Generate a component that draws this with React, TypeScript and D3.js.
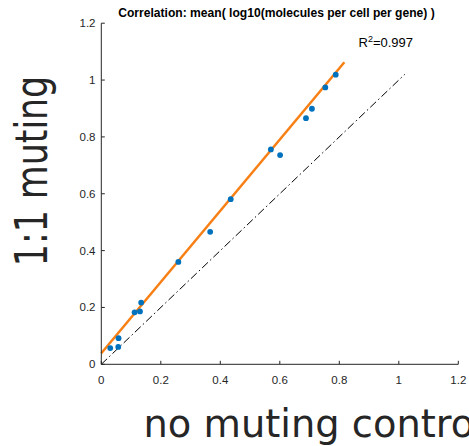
import React from "react";
import * as d3 from "d3";

const xValues = [0.030, 0.057, 0.058, 0.112, 0.130, 0.134, 0.259, 0.366, 0.435, 0.570, 0.601, 0.688, 0.708, 0.753, 0.788];
const yValues = [0.057, 0.061, 0.092, 0.183, 0.186, 0.217, 0.360, 0.466, 0.581, 0.756, 0.736, 0.866, 0.899, 0.974, 1.019];
const fitIntercept = 0.039;
const fitSlope = 1.253;
const fitXRange = [0, 0.817];
const identityRange = [0, 1.02];
const tickValues = [0, 0.2, 0.4, 0.6, 0.8, 1, 1.2];
const titleText = "Correlation: mean( log10(molecules per cell per gene) )";
const r2Text = "0.997";
const xLabel = "no muting control";
const yLabel = "1:1 muting";

const W = 469;
const H = 446;

export default function App() {
  const x = d3.scaleLinear().domain([0, 1.2]).range([101.3, 458.3]);
  const y = d3.scaleLinear().domain([0, 1.2]).range([364.3, 23.2]);
  const axisColor = "#262626";
  const line = d3.line<[number, number]>().x((d) => x(d[0])).y((d) => y(d[1]));
  const fitPts: [number, number][] = fitXRange.map((v) => [v, fitIntercept + fitSlope * v]);
  const idPts: [number, number][] = identityRange.map((v) => [v, v]);
  const fmt = (v: number) => (v === 0 || v === 1 ? String(v) : v.toFixed(1));
  return (
    <svg width={W} height={H} style={{ position: "absolute", left: 0, top: 0, background: "#fff" }}>
      <rect width={W} height={H} fill="#fff" />
      {/* identity line */}
      <path d={line(idPts) || ""} stroke="#000" strokeWidth={1} fill="none" strokeDasharray="8,3,1.5,3" />
      {/* fit */}
      <path d={line(fitPts) || ""} stroke="#F77F14" strokeWidth={2.5} fill="none" />
      {/* points */}
      {xValues.map((v, i) => (
        <circle key={i} cx={x(v)} cy={y(yValues[i])} r={2.9} fill="#0072BD" />
      ))}
      {/* axes */}
      <line x1={x(0)} x2={x(1.2)} y1={y(0)} y2={y(0)} stroke={axisColor} strokeWidth={1} />
      <line x1={x(0)} x2={x(0)} y1={y(0)} y2={y(1.2)} stroke={axisColor} strokeWidth={1} />
      {tickValues.map((t) => (
        <g key={"x" + t}>
          <line x1={x(t)} x2={x(t)} y1={y(0)} y2={y(0) - 3.5} stroke={axisColor} />
          <text x={x(t)} y={383.5} textAnchor="middle" fontFamily="Liberation Sans, Arial, sans-serif" fontSize={11.5} fill={axisColor}>
            {fmt(t)}
          </text>
        </g>
      ))}
      {tickValues.map((t) => (
        <g key={"y" + t}>
          <line x1={x(0)} x2={x(0) + 3.5} y1={y(t)} y2={y(t)} stroke={axisColor} />
          <text x={95.5} y={y(t) + 4} textAnchor="end" fontFamily="Liberation Sans, Arial, sans-serif" fontSize={11.5} fill={axisColor}>
            {fmt(t)}
          </text>
        </g>
      ))}
      {/* title */}
      <text x={276.5} y={17} textAnchor="middle" fontFamily="Liberation Sans, Arial, sans-serif" fontWeight="bold" fontSize={12.1} fill="#000">
        {titleText}
      </text>
      {/* R2 */}
      <text x={358.5} y={46.5} fontFamily="Liberation Sans, Arial, sans-serif" fontSize={13} fill="#000">
        R<tspan dy={-5} fontSize={9}>2</tspan><tspan dy={5}>={r2Text}</tspan>
      </text>
      {/* x label */}
      <text x={143.5} y={437} fontFamily="DejaVu Sans, sans-serif" fontSize={38.4} fill="#262626">
        {xLabel}
      </text>
      {/* y label */}
      <text transform="translate(47,171) rotate(-90) scale(0.94,1.2)" textAnchor="middle" fontFamily="DejaVu Sans, sans-serif" fontSize={37} fill="#262626">
        {yLabel}
      </text>
    </svg>
  );
}
